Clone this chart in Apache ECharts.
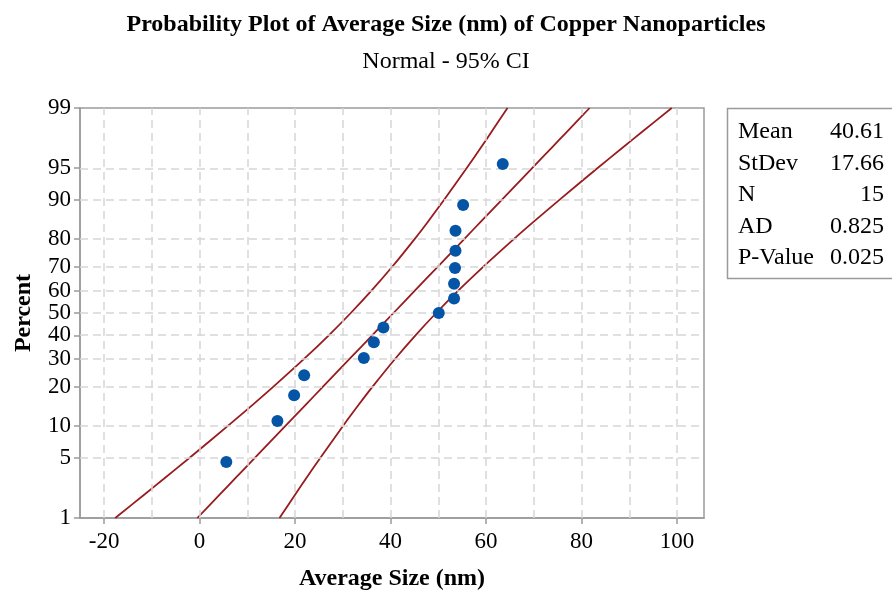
<!DOCTYPE html>
<html>
<head>
<meta charset="utf-8">
<script src="https://cdn.jsdelivr.net/npm/echarts@6/dist/echarts.min.js"></script>
<style>
html,body{margin:0;padding:0;background:#fff;}
#chart{width:892px;height:592px;}
</style>
</head>
<body>
<div id="chart"></div>
<script>
// ---- data ----
const sizeValues = [5.6, 16.3, 19.8, 21.9, 34.4, 36.5, 38.5, 50.1, 53.3, 53.3, 53.5, 53.6, 53.6, 55.2, 63.5];
const plotPercents = [4.55, 11.04, 17.53, 24.03, 30.52, 37.01, 43.51, 50, 56.49, 62.99, 69.48, 75.97, 82.47, 88.96, 95.45];

const curvePercents = [1, 2, 3, 5, 10, 15, 20, 30, 40, 50, 60, 70, 80, 85, 90, 95, 97, 98, 99];
const fitX   = [-0.47, 4.34, 7.39, 11.56, 17.98, 22.31, 25.75, 31.35, 36.14, 40.61, 45.08, 49.87, 55.47, 58.91, 63.24, 69.66, 73.83, 76.88, 81.69];
const lowerX = [-17.67, -11.42, -7.48, -2.15, 5.92, 11.23, 15.35, 21.82, 27.06, 31.67, 36.00, 40.34, 45.07, 47.83, 51.18, 55.95, 58.96, 61.12, 64.49];
const upperX = [16.73, 20.10, 22.26, 25.27, 30.04, 33.39, 36.15, 40.88, 45.22, 49.55, 54.16, 59.40, 65.87, 69.99, 75.30, 83.37, 88.70, 92.64, 98.89];

const percentTicks = [1, 5, 10, 20, 30, 40, 50, 60, 70, 80, 90, 95, 99];
const xTickLabels = [-20, 0, 20, 40, 60, 80, 100];
const xGridValues = [-20, -10, 0, 10, 20, 30, 40, 50, 60, 70, 80, 90, 100];

const statLabels = ['Mean', 'StDev', 'N', 'AD', 'P-Value'];
const statValues = ['40.61', '17.66', '15', '0.825', '0.025'];

// ---- probability scale (inverse normal) ----
function normInv(p) {
  const a = [-3.969683028665376e+01, 2.209460984245205e+02, -2.759285104469687e+02, 1.383577518672690e+02, -3.066479806614716e+01, 2.506628277459239e+00];
  const b = [-5.447609879822406e+01, 1.615858368580409e+02, -1.556989798598866e+02, 6.680131188771972e+01, -1.328068155288572e+01];
  const c = [-7.784894002430293e-03, -3.223964580411365e-01, -2.400758277161838e+00, -2.549732539343734e+00, 4.374664141464968e+00, 2.938163982698783e+00];
  const d = [7.784695709041462e-03, 3.224671290700398e-01, 2.445134137142996e+00, 3.754408661907416e+00];
  const pl = 0.02425, ph = 1 - pl;
  let q, r;
  if (p < pl) { q = Math.sqrt(-2 * Math.log(p)); return (((((c[0]*q+c[1])*q+c[2])*q+c[3])*q+c[4])*q+c[5]) / ((((d[0]*q+d[1])*q+d[2])*q+d[3])*q+1); }
  if (p <= ph) { q = p - 0.5; r = q*q; return (((((a[0]*r+a[1])*r+a[2])*r+a[3])*r+a[4])*r+a[5])*q / (((((b[0]*r+b[1])*r+b[2])*r+b[3])*r+b[4])*r+1); }
  q = Math.sqrt(-2 * Math.log(1 - p));
  return -(((((c[0]*q+c[1])*q+c[2])*q+c[3])*q+c[4])*q+c[5]) / ((((d[0]*q+d[1])*q+d[2])*q+d[3])*q+1);
}
const pz = (pct) => normInv(pct / 100);
const zMin = pz(1), zMax = pz(99);
const tickZ = percentTicks.map(pz);

const FONT = "'Liberation Serif', 'Times New Roman', serif";
const RED = '#981b1e';
const GRIDC = '#d6d6d6';
const AXISC = '#9a9a9a';

const chart = echarts.init(document.getElementById('chart'));

const curve = (xs, name) => ({
  name, type: 'line', data: xs.map((x, i) => [x, pz(curvePercents[i])]),
  showSymbol: false, symbol: 'none', smooth: 0.3, silent: true,
  lineStyle: { color: RED, width: 1.8 }, z: 3
});

const option = {
  animation: false,
  title: [
    { text: 'Probability Plot of Average Size (nm) of Copper Nanoparticles', left: 'center', top: 8,
      textStyle: { fontFamily: FONT, fontSize: 24, fontWeight: 'bold', color: '#000' } },
    { text: 'Normal - 95% CI', left: 'center', top: 45,
      textStyle: { fontFamily: FONT, fontSize: 24, fontWeight: 'normal', color: '#000' } }
  ],
  grid: { left: 80, top: 108, right: 188, bottom: 74, containLabel: false, outerBoundsMode: 'none',
          show: true, borderColor: AXISC, borderWidth: 1.5, backgroundColor: '#fff' },
  xAxis: {
    type: 'value', min: -25.05, max: 105.65,
    name: 'Average Size (nm)', nameLocation: 'middle', nameGap: 49,
    nameTextStyle: { fontFamily: FONT, fontSize: 24, fontWeight: 'bold', color: '#000' },
    axisLine: { show: true, onZero: false, lineStyle: { color: AXISC, width: 1.5 } },
    axisTick: { show: true, length: 6, lineStyle: { color: AXISC, width: 1.5 }, customValues: xTickLabels },
    axisLabel: { customValues: xTickLabels, margin: 12, fontFamily: FONT, fontSize: 23, color: '#000' },
    splitLine: { show: false }
  },
  yAxis: {
    type: 'value', min: zMin, max: zMax,
    name: 'Percent', nameLocation: 'middle', nameGap: 44, nameRotate: 90,
    nameTextStyle: { fontFamily: FONT, fontSize: 24, fontWeight: 'bold', color: '#000' },
    axisLine: { show: true, onZero: false, lineStyle: { color: AXISC, width: 1.5 } },
    axisTick: { show: true, length: 6, lineStyle: { color: AXISC, width: 1.5 }, customValues: tickZ },
    axisLabel: {
      customValues: tickZ, margin: 9, fontFamily: FONT, fontSize: 23, color: '#000',
      formatter: (v) => {
        let best = 0;
        tickZ.forEach((t, i) => { if (Math.abs(t - v) < Math.abs(tickZ[best] - v)) best = i; });
        return String(percentTicks[best]);
      }
    },
    splitLine: { show: false }
  },
  series: [
    {
      name: 'grid', type: 'line', data: [], silent: true, z: 1,
      markLine: {
        silent: true, symbol: 'none', animation: false,
        label: { show: false },
        lineStyle: { color: GRIDC, type: [8, 5], width: 1.5 },
        data: xGridValues.map(v => ({ xAxis: v }))
          .concat(tickZ.filter((t, i) => percentTicks[i] !== 1 && percentTicks[i] !== 99).map(t => ({ yAxis: t })))
      }
    },
    curve(lowerX, 'lower'),
    curve(fitX, 'fit'),
    curve(upperX, 'upper'),
    {
      name: 'data', type: 'scatter', symbol: 'circle', symbolSize: 12, z: 5,
      itemStyle: { color: '#0455a6', opacity: 1 },
      data: sizeValues.map((x, i) => [x, pz(plotPercents[i])])
    }
  ],
  graphic: [
    { type: 'rect', shape: { x: 727.5, y: 108.5, width: 170, height: 170 },
      style: { fill: '#fff', stroke: AXISC, lineWidth: 1.5 } }
  ].concat(statLabels.map((t, i) => ({
    type: 'text', x: 738, y: 132 + i * 31.5,
    style: { text: t, font: '24px ' + FONT, fill: '#000', textVerticalAlign: 'middle', verticalAlign: 'middle' }
  }))).concat(statValues.map((t, i) => ({
    type: 'text', x: 884, y: 132 + i * 31.5,
    style: { text: t, font: '24px ' + FONT, fill: '#000', textAlign: 'right', align: 'right', textVerticalAlign: 'middle', verticalAlign: 'middle' }
  })))
};
chart.setOption(option);
</script>
</body>
</html>
